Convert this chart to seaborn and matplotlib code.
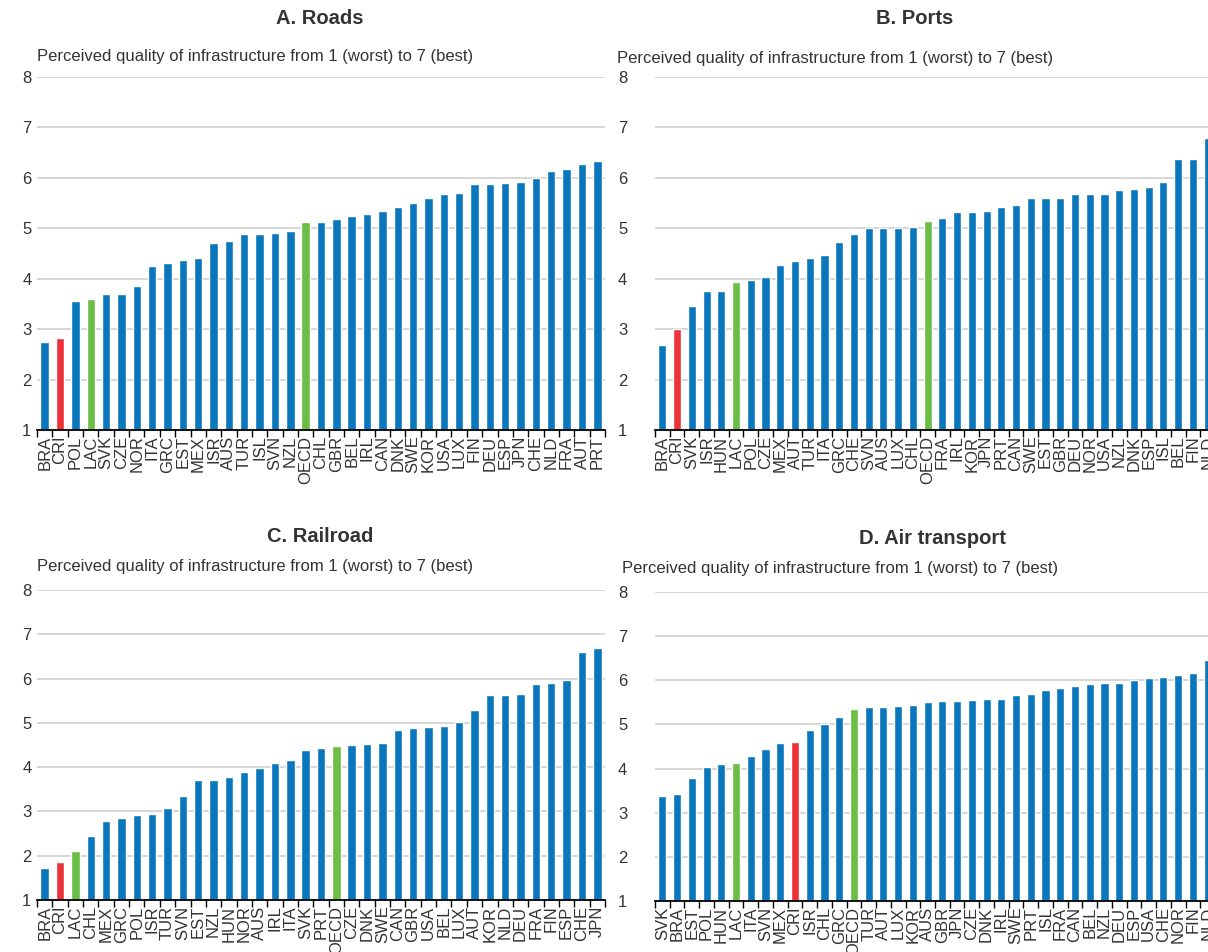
import numpy as np
import pandas as pd
import seaborn as sns
import matplotlib.pyplot as plt

# A. Roads
roads_countries = ["BRA", "CRI", "POL", "LAC", "SVK", "CZE", "NOR", "ITA", "GRC", "EST", "MEX", "ISR",
                   "AUS", "TUR", "ISL", "SVN", "NZL", "OECD", "CHL", "GBR", "BEL", "IRL", "CAN", "DNK",
                   "SWE", "KOR", "USA", "LUX", "FIN", "DEU", "ESP", "JPN", "CHE", "NLD", "FRA", "AUT", "PRT"]
roads_values = [2.75, 2.83, 3.55, 3.60, 3.70, 3.70, 3.85, 4.25, 4.32, 4.38, 4.42, 4.70,
                4.75, 4.88, 4.88, 4.90, 4.95, 5.12, 5.12, 5.18, 5.25, 5.28, 5.35, 5.43,
                5.50, 5.60, 5.68, 5.70, 5.87, 5.87, 5.90, 5.92, 6.00, 6.13, 6.17, 6.27, 6.33]

# B. Ports
ports_countries = ["BRA", "CRI", "SVK", "ISR", "HUN", "LAC", "POL", "CZE", "MEX", "AUT", "TUR", "ITA",
                   "GRC", "CHE", "SVN", "AUS", "LUX", "CHL", "OECD", "FRA", "IRL", "KOR", "JPN", "PRT",
                   "CAN", "SWE", "EST", "GBR", "DEU", "NOR", "USA", "NZL", "DNK", "ESP", "ISL", "BEL",
                   "FIN", "NLD"]
ports_values = [2.68, 3.00, 3.45, 3.75, 3.75, 3.93, 3.97, 4.03, 4.27, 4.35, 4.42, 4.47,
                4.72, 4.88, 5.00, 5.00, 5.00, 5.03, 5.15, 5.20, 5.32, 5.33, 5.35, 5.42,
                5.47, 5.60, 5.60, 5.60, 5.67, 5.68, 5.68, 5.75, 5.78, 5.82, 5.92, 6.37,
                6.38, 6.80]

# C. Railroad
rail_countries = ["BRA", "CRI", "LAC", "CHL", "MEX", "GRC", "POL", "ISR", "TUR", "SVN", "EST", "NZL",
                  "HUN", "NOR", "AUS", "IRL", "ITA", "SVK", "PRT", "OECD", "CZE", "DNK", "SWE", "CAN",
                  "GBR", "USA", "BEL", "LUX", "AUT", "KOR", "NLD", "DEU", "FRA", "FIN", "ESP", "CHE", "JPN"]
rail_values = [1.72, 1.85, 2.10, 2.45, 2.78, 2.85, 2.92, 2.95, 3.07, 3.35, 3.72, 3.72,
               3.78, 3.88, 3.97, 4.10, 4.15, 4.38, 4.43, 4.48, 4.50, 4.52, 4.55, 4.85,
               4.88, 4.90, 4.92, 5.03, 5.28, 5.62, 5.62, 5.65, 5.88, 5.90, 5.97, 6.60, 6.68]

# D. Air transport
air_countries = ["SVK", "BRA", "EST", "POL", "HUN", "LAC", "ITA", "SVN", "MEX", "CRI", "ISR", "CHL",
                 "GRC", "OECD", "TUR", "AUT", "LUX", "KOR", "AUS", "GBR", "JPN", "CZE", "DNK", "IRL",
                 "SWE", "PRT", "ISL", "FRA", "CAN", "BEL", "NZL", "DEU", "ESP", "USA", "CHE", "NOR",
                 "FIN", "NLD"]
air_values = [3.37, 3.42, 3.78, 4.03, 4.10, 4.12, 4.28, 4.45, 4.57, 4.60, 4.87, 5.00,
              5.17, 5.35, 5.40, 5.40, 5.42, 5.43, 5.50, 5.52, 5.53, 5.55, 5.57, 5.58,
              5.67, 5.70, 5.77, 5.82, 5.87, 5.92, 5.93, 5.93, 6.00, 6.05, 6.08, 6.12,
              6.17, 6.45]

subtitle = "Perceived quality of infrastructure from 1 (worst) to 7 (best)"

BLUE = "#0a76bc"
RED = "#ee3239"
GREEN = "#6abd45"
TEXT = "#333333"


def bar_colors(countries):
    return [RED if c == "CRI" else GREEN if c in ("LAC", "OECD") else BLUE for c in countries]


sns.set_theme(style="white")
plt.rcParams["font.family"] = ["Liberation Sans", "DejaVu Sans"]

W, H = 1208, 952
fig = plt.figure(figsize=(W / 100, H / 100), dpi=100)


def draw_panel(left, right, top, bottom, countries, values, title, title_x, title_y, sub_x, sub_y, ypad):
    ax = fig.add_axes([left / W, 1 - bottom / H, (right - left) / W, (bottom - top) / H])
    df = pd.DataFrame({"country": countries, "value": values})
    sns.barplot(data=df, x="country", y="value", hue="country", palette=bar_colors(countries),
                legend=False, width=0.55, saturation=1, ax=ax)
    n = len(countries)
    ax.set_xlim(-0.5, n - 0.5)
    ax.set_ylim(1, 8)
    ax.set_yticks(range(1, 9))
    ax.set_xlabel("")
    ax.set_ylabel("")
    ax.set_axisbelow(True)
    ax.yaxis.grid(True, color="#d0d0d0", lw=1.2)
    for s in ["left", "right", "top"]:
        ax.spines[s].set_visible(False)
    ax.spines["bottom"].set_color("black")
    ax.spines["bottom"].set_linewidth(1.3)
    ax.set_xticks(np.arange(-0.5, n, 1), minor=True)
    ax.tick_params(axis="x", which="major", length=0, pad=4, labelsize=12, labelcolor=TEXT, labelrotation=90)
    ax.tick_params(axis="x", which="minor", length=5, width=1, color="black", direction="out", bottom=True)
    ax.tick_params(axis="y", length=0, pad=ypad, labelsize=12, labelcolor=TEXT)
    fig.text(title_x / W, 1 - title_y / H, title, ha="center", va="center", fontsize=14.5,
             fontweight="bold", color=TEXT)
    fig.text(sub_x / W, 1 - sub_y / H, subtitle, ha="left", va="center", fontsize=12, color=TEXT)
    return ax


draw_panel(37, 605, 77, 430, roads_countries, roads_values, "A. Roads", 320, 18, 37, 57, 4)
draw_panel(655, 1215, 77, 430, ports_countries, ports_values, "B. Ports", 915, 18, 617, 59, 20)
draw_panel(37, 605, 590, 900, rail_countries, rail_values, "C. Railroad", 320, 537, 37, 566, 4)
draw_panel(655, 1215, 592, 901, air_countries, air_values, "D. Air transport", 932, 538, 622, 568, 20)

fig.savefig("out.png", dpi=100)
